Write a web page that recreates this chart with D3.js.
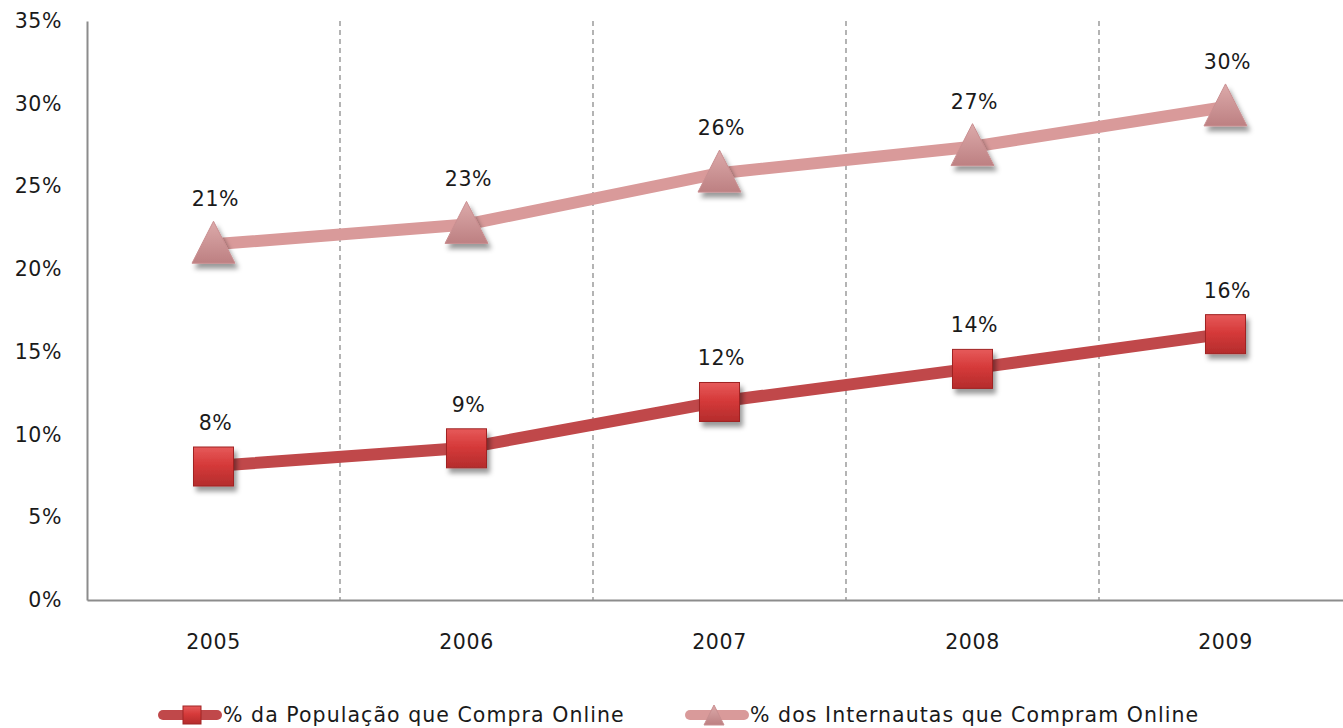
<!DOCTYPE html>
<html>
<head>
<meta charset="utf-8">
<script src="https://cdn.jsdelivr.net/npm/d3@7"></script>
<style>
  body { margin: 0; background: #fff; }
  svg text { font-family: "DejaVu Sans", Verdana, sans-serif; fill: #1a1a1a; letter-spacing: 0.6px; }
</style>
</head>
<body>
<div id="chart"></div>
<script>
const years = ["2005", "2006", "2007", "2008", "2009"];
const popValues = [0.081, 0.092, 0.120, 0.140, 0.161];
const popLabels = ["8%", "9%", "12%", "14%", "16%"];
const netValues = [0.215, 0.227, 0.258, 0.274, 0.298];
const netLabels = ["21%", "23%", "26%", "27%", "30%"];
const yTicks = [0, 0.05, 0.1, 0.15, 0.2, 0.25, 0.3, 0.35];
const seriesNames = ["% da População que Compra Online", "% dos Internautas que Compram Online"];

const size = { width: 1343, height: 728 };
const margin = { top: 21, right: -9, bottom: 128, left: 87 };
const fontSize = "20.5px";

const svg = d3.select("#chart").append("svg")
  .attr("width", size.width)
  .attr("height", size.height);

const defs = svg.append("defs");
const shadow = defs.append("filter").attr("id", "shadow")
  .attr("x", "-50%").attr("y", "-50%").attr("width", "200%").attr("height", "200%");
shadow.append("feDropShadow")
  .attr("dx", 3).attr("dy", 5).attr("stdDeviation", 2.5)
  .attr("flood-color", "#000").attr("flood-opacity", 0.4);

const redGrad = defs.append("linearGradient").attr("id", "redGrad")
  .attr("x1", 0).attr("y1", 0).attr("x2", 0).attr("y2", 1);
redGrad.append("stop").attr("offset", "0%").attr("stop-color", "#e65a5a");
redGrad.append("stop").attr("offset", "45%").attr("stop-color", "#d63a3a");
redGrad.append("stop").attr("offset", "100%").attr("stop-color", "#b42c2c");

const pinkGrad = defs.append("linearGradient").attr("id", "pinkGrad")
  .attr("x1", 0).attr("y1", 0).attr("x2", 0).attr("y2", 1);
pinkGrad.append("stop").attr("offset", "0%").attr("stop-color", "#dcaaaa");
pinkGrad.append("stop").attr("offset", "100%").attr("stop-color", "#bd8082");

const x = d3.scaleBand()
  .domain(years)
  .range([margin.left, size.width - margin.right]);

const y = d3.scaleLinear()
  .domain([0, 0.35])
  .range([size.height - margin.bottom, margin.top]);

// dashed separators between years
svg.append("g")
  .selectAll("line")
  .data(years.slice(1))
  .join("line")
  .attr("x1", (d) => x(d)).attr("x2", (d) => x(d))
  .attr("y1", y(0.35)).attr("y2", y(0))
  .attr("stroke", "#8c8c8c")
  .attr("stroke-width", 1.3)
  .attr("stroke-dasharray", "5,4");

// axes
const yAxis = svg.append("g")
  .attr("transform", `translate(${margin.left},0)`)
  .call(d3.axisLeft(y).tickValues(yTicks).tickSize(0).tickPadding(25)
    .tickFormat((d) => Math.round(d * 100) + "%"));
yAxis.select(".domain").attr("stroke", "#8c8c8c").attr("stroke-width", 2);
yAxis.selectAll("text").style("font-size", fontSize).attr("fill", "#1a1a1a");

const xAxis = svg.append("g")
  .attr("transform", `translate(0,${y(0)})`)
  .call(d3.axisBottom(x).tickSize(0).tickPadding(34));
xAxis.select(".domain").attr("stroke", "#8c8c8c").attr("stroke-width", 2);
xAxis.selectAll("text").style("font-size", fontSize).attr("fill", "#1a1a1a");

const line = d3.line()
  .x((d, i) => x(years[i]) + x.bandwidth() / 2)
  .y((d) => y(d));

const triPath = (w, h) => `M0,${-h * 0.55}L${w / 2},${h * 0.45}L${-w / 2},${h * 0.45}Z`;

// internautas series
svg.append("path")
  .attr("d", line(netValues))
  .attr("fill", "none")
  .attr("stroke", "#d99a9a")
  .attr("stroke-width", 12);

svg.append("g")
  .selectAll("path")
  .data(netValues)
  .join("path")
  .attr("transform", (d, i) => `translate(${x(years[i]) + x.bandwidth() / 2},${y(d)})`)
  .attr("d", triPath(43, 42))
  .attr("fill", "url(#pinkGrad)")
  .attr("stroke", "#c98e90")
  .attr("stroke-width", 1)
  .attr("filter", "url(#shadow)");

svg.append("g")
  .selectAll("text")
  .data(netValues)
  .join("text")
  .attr("x", (d, i) => x(years[i]) + x.bandwidth() / 2 + 2)
  .attr("y", (d) => y(d) - 38)
  .attr("text-anchor", "middle")
  .style("font-size", fontSize)
  .text((d, i) => netLabels[i]);

// população series
svg.append("path")
  .attr("d", line(popValues))
  .attr("fill", "none")
  .attr("stroke", "#c0484a")
  .attr("stroke-width", 12);

svg.append("g")
  .selectAll("rect")
  .data(popValues)
  .join("rect")
  .attr("x", (d, i) => x(years[i]) + x.bandwidth() / 2 - 20)
  .attr("y", (d) => y(d) - 19)
  .attr("width", 40)
  .attr("height", 39)
  .attr("fill", "url(#redGrad)")
  .attr("stroke", "#a02424")
  .attr("stroke-width", 1)
  .attr("filter", "url(#shadow)");

svg.append("g")
  .selectAll("text")
  .data(popValues)
  .join("text")
  .attr("x", (d, i) => x(years[i]) + x.bandwidth() / 2 + 2)
  .attr("y", (d) => y(d) - 36)
  .attr("text-anchor", "middle")
  .style("font-size", fontSize)
  .text((d, i) => popLabels[i]);

// legend
const legend = svg.append("g").attr("transform", `translate(0,${size.height - 13})`);
const items = [
  { name: seriesNames[0], x: 163, color: "#c0484a", shape: "square" },
  { name: seriesNames[1], x: 690, color: "#d99a9a", shape: "triangle" },
];
const li = legend.selectAll("g").data(items).join("g")
  .attr("transform", (d) => `translate(${d.x},0)`);
li.append("line")
  .attr("x1", 0).attr("x2", 54)
  .attr("stroke", (d) => d.color)
  .attr("stroke-width", 10)
  .attr("stroke-linecap", "round");
li.filter((d) => d.shape === "square").append("rect")
  .attr("x", 20).attr("y", -9).attr("width", 18).attr("height", 18)
  .attr("fill", "url(#redGrad)").attr("stroke", "#a02424");
li.filter((d) => d.shape === "triangle").append("path")
  .attr("transform", "translate(24,1)")
  .attr("d", triPath(20, 20))
  .attr("fill", "url(#pinkGrad)").attr("stroke", "#c98e90");
li.append("text")
  .attr("x", 60).attr("y", 7)
  .style("font-size", fontSize)
  .style("letter-spacing", "1.05px")
  .text((d) => d.name);
</script>
</body>
</html>
